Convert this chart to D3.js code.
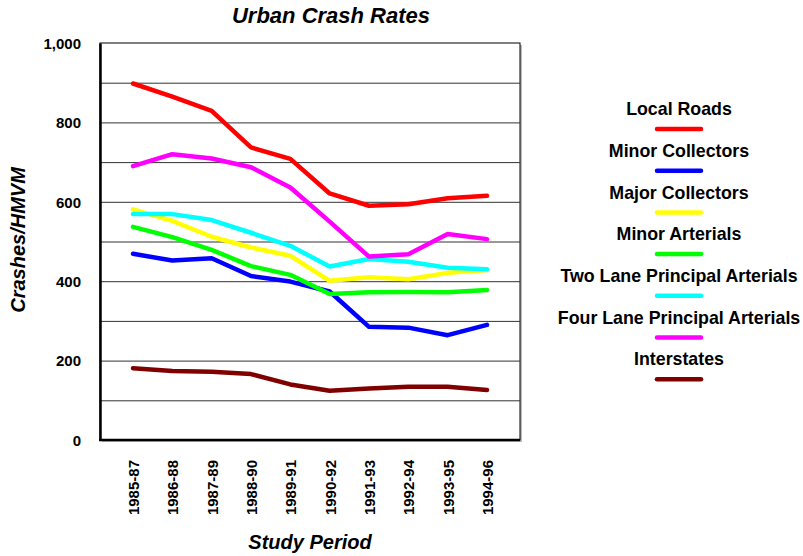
<!DOCTYPE html>
<html>
<head>
<meta charset="utf-8">
<script src="https://cdn.jsdelivr.net/npm/d3@7"></script>
<style>
body { margin: 0; background: #fff; }
text { font-family: Arial, "Liberation Sans", sans-serif; font-weight: bold; fill: #000; }
</style>
</head>
<body>
<svg id="svg" width="803" height="556"></svg>
<script>
var periods = ["1985-87","1986-88","1987-89","1988-90","1989-91","1990-92","1991-93","1992-94","1993-95","1994-96"];
var names   = ["Local Roads","Minor Collectors","Major Collectors","Minor Arterials","Two Lane Principal Arterials","Four Lane Principal Arterials","Interstates"];
var colors  = ["#ff0000","#0000ff","#ffff00","#00ff00","#00ffff","#ff00ff","#800000"];

var localRoads  = [898, 865, 829, 737, 708, 621, 590, 594, 609, 615];
var minorColl   = [469, 452, 458, 413, 399, 374, 285, 283, 264, 290];
var majorColl   = [581, 552, 512, 485, 464, 401, 410, 405, 421, 428];
var minorArt    = [537, 511, 479, 438, 416, 368, 372, 373, 372, 378];
var twoLane     = [569, 569, 554, 522, 489, 437, 456, 449, 434, 430];
var fourLane    = [690, 720, 709, 687, 636, 550, 462, 468, 519, 506];
var interstates = [181, 174, 172, 166, 140, 124, 130, 134, 134, 126];
var yTicks = [0, 200, 400, 600, 800, 1000];

var series = [localRoads, minorColl, majorColl, minorArt, twoLane, fourLane, interstates];

var svg = d3.select("#svg");
var x0 = 100, x1 = 520, y0 = 43, y1 = 440;

var x = d3.scalePoint().domain(periods).range([x0 + 33, x1 - 33]);
var y = d3.scaleLinear().domain([0, 1000]).range([y1, y0]);

// frame with a soft shadow, then grid
svg.append("rect").attr("x", x0 + 2).attr("y", y0 + 2).attr("width", x1 - x0).attr("height", y1 - y0)
    .attr("fill", "#bbb");
svg.append("rect").attr("x", x0).attr("y", y0).attr("width", x1 - x0).attr("height", y1 - y0)
    .attr("fill", "#fff").attr("stroke", "#000").attr("stroke-width", 1);

svg.append("g").selectAll("line").data(d3.range(100, 1000, 100)).enter()
    .append("line")
    .attr("x1", x0).attr("x2", x1)
    .attr("y1", d => y(d) + 0.5).attr("y2", d => y(d) + 0.5)
    .attr("stroke", "#333").attr("stroke-width", 1);

// axes
var yAxis = svg.append("g").attr("transform", "translate(" + x0 + ",0)")
    .call(d3.axisLeft(y).tickValues(yTicks).tickSize(0).tickPadding(19).tickFormat(d3.format(",")));
yAxis.select(".domain").attr("stroke", "#000").attr("stroke-width", 2.5);
yAxis.selectAll("text").attr("font-size", 15).attr("dy", "0.35em");

var xAxis = svg.append("g").attr("transform", "translate(0," + y1 + ")")
    .call(d3.axisBottom(x).tickSize(0).tickSizeOuter(0));
xAxis.select(".domain").attr("d", "M" + (x0 - 1) + ",0H" + x1).attr("stroke", "#000").attr("stroke-width", 2.5);
xAxis.selectAll("text")
    .attr("font-size", 15)
    .attr("transform", "rotate(-90)")
    .attr("text-anchor", "end")
    .attr("x", -20).attr("y", 0).attr("dy", "0.36em");

// lines
var line = d3.line().x((d, i) => x(periods[i])).y(d => y(d));
svg.append("g").selectAll("path").data(series).enter()
    .append("path")
    .attr("d", line)
    .attr("fill", "none")
    .attr("stroke", (d, i) => colors[i])
    .attr("stroke-width", 4.5)
    .attr("stroke-linecap", "round")
    .attr("stroke-linejoin", "round");

// titles
svg.append("text").attr("x", 331).attr("y", 23).attr("text-anchor", "middle")
    .attr("font-size", 22).attr("font-style", "italic").text("Urban Crash Rates");
svg.append("text").attr("x", 310).attr("y", 549).attr("text-anchor", "middle")
    .attr("font-size", 20).attr("font-style", "italic").text("Study Period");
svg.append("text").attr("transform", "translate(25,240) rotate(-90)").attr("text-anchor", "middle")
    .attr("font-size", 20).attr("font-style", "italic").text("Crashes/HMVM");

// legend
var leg = svg.append("g").selectAll("g").data(names).enter()
    .append("g").attr("transform", (d, i) => "translate(679," + (109 + i * 41.7) + ")");
leg.append("text").attr("text-anchor", "middle").attr("dy", "0.35em").attr("font-size", 17.8).text(d => d);
leg.append("line").attr("x1", -22).attr("x2", 22).attr("y1", 20).attr("y2", 20)
    .attr("stroke", (d, i) => colors[i]).attr("stroke-width", 4.5).attr("stroke-linecap", "round");
</script>
</body>
</html>
